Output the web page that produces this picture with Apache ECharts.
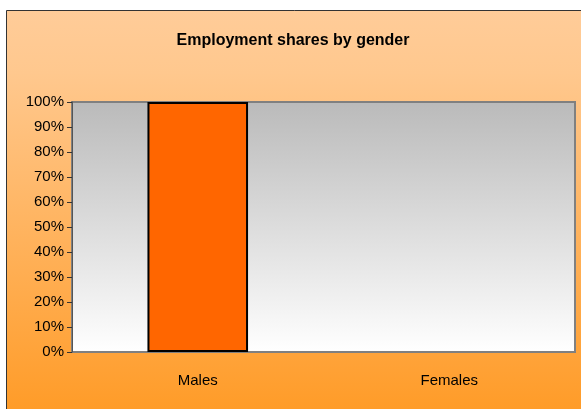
<!DOCTYPE html>
<html>
<head>
<meta charset="utf-8">
<script src="https://cdn.jsdelivr.net/npm/echarts@6/dist/echarts.min.js"></script>
<style>
  html, body { margin: 0; padding: 0; background: #fff; }
  #chart { width: 581px; height: 409px; }
</style>
</head>
<body>
<div id="chart"></div>
<script>
/* === Data === */
const categories = ['Males', 'Females'];
const shares = [1.0, 0.0];
const yTicks = [0, 0.1, 0.2, 0.3, 0.4, 0.5, 0.6, 0.7, 0.8, 0.9, 1.0];

const FONT = "Arial, 'Liberation Sans', sans-serif";

function initChart() {
  const chart = echarts.init(document.getElementById('chart'));
  chart.setOption({
    animation: false,
    graphic: [{
      type: 'rect',
      z: -10,
      shape: { x: 6.5, y: 10.5, width: 600, height: 420 },
      style: {
        fill: new echarts.graphic.LinearGradient(0, 0, 0, 1, [
          { offset: 0, color: '#FFCC99' },
          { offset: 0.15, color: '#FFC88E' },
          { offset: 1, color: '#FF9922' }
        ]),
        stroke: '#333',
        lineWidth: 1
      }
    }],
    title: {
      text: 'Employment shares by gender',
      left: 288, top: 28, textAlign: 'center',
      textStyle: { fontFamily: FONT, fontSize: 16, fontWeight: 'bold', color: '#000' }
    },
    grid: {
      left: 72, right: 6, top: 102, bottom: 57,
      show: true,
      backgroundColor: new echarts.graphic.LinearGradient(0, 0, 0, 1, [
        { offset: 0, color: '#BABABA' },
        { offset: 1, color: '#FFFFFF' }
      ]),
      borderColor: '#808080',
      borderWidth: 2
    },
    xAxis: {
      type: 'category',
      data: categories,
      axisLine: { show: false },
      axisTick: { show: false },
      axisLabel: { fontFamily: FONT, fontSize: 15, color: '#000', margin: 21 }
    },
    yAxis: {
      type: 'value',
      min: 0, max: 1, interval: 0.1,
      axisLine: { show: true, lineStyle: { color: '#555', width: 1 } },
      axisTick: { show: true, length: 5, lineStyle: { color: '#333' } },
      splitLine: { show: false },
      axisLabel: {
        fontFamily: FONT, fontSize: 15, color: '#000', margin: 8,
        formatter: v => {
          const t = yTicks.find(x => Math.abs(x - v) < 1e-9);
          return Math.round((t !== undefined ? t : v) * 100) + '%';
        }
      }
    },
    series: [{
      type: 'bar',
      data: shares.map(v => ({ value: v, itemStyle: v === 0 ? { borderWidth: 0 } : {} })),
      barWidth: '40%',
      itemStyle: { color: '#FF6600', borderColor: '#000', borderWidth: 2 }
    }]
  });
}

initChart();
</script>
</body>
</html>
